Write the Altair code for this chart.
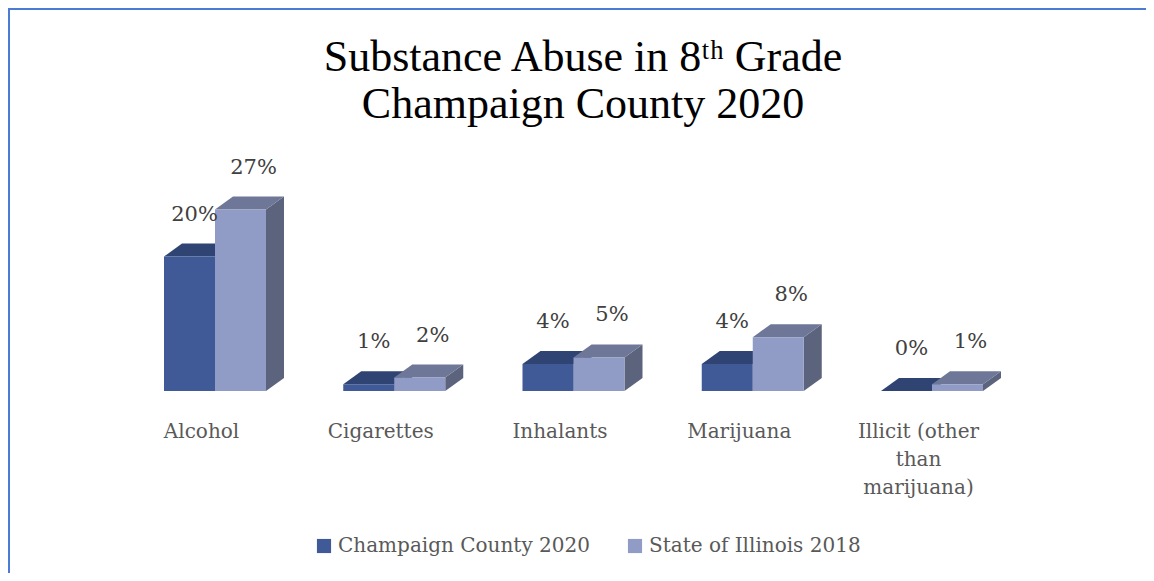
import json
import altair as alt
import pandas as pd

# ---------------- data ----------------
categories = ["Alcohol", "Cigarettes", "Inhalants", "Marijuana", "Illicit (other than marijuana)"]
category_lines = [["Alcohol"], ["Cigarettes"], ["Inhalants"], ["Marijuana"],
                  ["Illicit (other", "than", "marijuana)"]]
series = ["Champaign County 2020", "State of Illinois 2018"]
county_2020 = [20, 1, 4, 4, 0]
illinois_2018 = [27, 2, 5, 8, 1]

# ---------------- styles ----------------
front_colors = ["#3F5A96", "#909BC6"]
top_colors = ["#2F4473", "#6E7797"]
side_colors = ["#2B3C66", "#5C637C"]
label_dx_px = [5, 13]

# ---------------- layout ----------------
W_PX, H_PX = 1138, 565
STEP = 179.25      # px per category
BASE_PX = 383      # pixel row of 0 %
PPP = 6.72         # px per percent
FIRST_PX = 207     # pixel column of first category centre
BAR = 51 / STEP
DX = 18 / STEP
DY = 13 / PPP

x_domain = [-FIRST_PX / STEP, (W_PX - FIRST_PX) / STEP]
y_domain = [-(H_PX - BASE_PX) / PPP, BASE_PX / PPP]

values = [county_2020, illinois_2018]
front, top, side, labels = [], [], [], []
for s, vals in enumerate(values):
    for i, (cat, v) in enumerate(zip(categories, vals)):
        x0 = i - BAR if s == 0 else i
        x1 = x0 + BAR
        bar = f"b{s}{i}"
        front.append(dict(series=series[s], category=cat, x0=x0, x1=x1, v=v, bar=bar))
        # top face (parallelogram) as a ranged vertical area
        for px, lo, hi in [(x0, v, v), (x0 + DX, v, v + DY), (x1, v, v + DY), (x1 + DX, v + DY, v + DY)]:
            top.append(dict(series=series[s], bar=bar, px=px, lo=lo, hi=hi))
        # side face
        for px, lo, hi in [(x1, 0, v), (x1 + DX, DY, v + DY)]:
            side.append(dict(series=series[s], bar=bar, px=px, lo=lo, hi=hi))
        labels.append(dict(series=series[s], lx=(x0 + x1) / 2 + label_dx_px[s] / STEP,
                           ly=v + DY, text=f"{v}%"))

front_df = pd.DataFrame(front)
top_df = pd.DataFrame(top)
side_df = pd.DataFrame(side)
label_df = pd.DataFrame(labels)

xs = alt.Scale(domain=x_domain, nice=False, zero=False)
ys = alt.Scale(domain=y_domain, nice=False, zero=False)

x_axis = alt.Axis(
    values=[0, 1, 2, 3, 4],
    labelExpr=json.dumps(category_lines) + "[datum.value]",
    orient="bottom", offset=-(H_PX - BASE_PX),
    domain=False, ticks=False, grid=False,
    labelFont="DejaVu Serif", labelFontSize=20, labelColor="#595959",
    labelPadding=30, labelOffset=-14, labelLineHeight=28,
    labelFlush=False, labelOverlap=False, labelLimit=300,
)


def X(field):
    return alt.X(field, type="quantitative", scale=xs, axis=x_axis, title=None)


def Y(field):
    return alt.Y(field, type="quantitative", scale=ys, axis=None, stack=False)


color_enc = alt.Color(
    "series:N",
    scale=alt.Scale(domain=series, range=front_colors),
    legend=alt.Legend(
        title=None, orient="none", legendX=306, legendY=528, direction="horizontal",
        symbolType="square", symbolSize=200, symbolStrokeWidth=0,
        labelFont="DejaVu Serif", labelFontSize=20, labelColor="#595959",
        labelOffset=4, columnPadding=35, padding=0, labelLimit=400,
    ),
)

layers = []
for s, name in enumerate(series):
    sd = side_df[side_df.series == name].reset_index(drop=True)
    td = top_df[top_df.series == name].reset_index(drop=True)
    fd = front_df[front_df.series == name].reset_index(drop=True)
    layers.append(
        alt.Chart(sd).mark_area(color=side_colors[s], opacity=1, interpolate="linear").encode(
            x=X("px"), y=Y("lo"), y2=alt.Y2("hi"), detail="bar:N")
    )
    layers.append(
        alt.Chart(td).mark_area(color=top_colors[s], opacity=1, interpolate="linear").encode(
            x=X("px"), y=Y("lo"), y2=alt.Y2("hi"), detail="bar:N")
    )
    layers.append(
        alt.Chart(fd).mark_rect().encode(
            x=X("x0"), x2="x1", y=Y("v"), y2=alt.datum(0), color=color_enc)
    )

layers.append(
    alt.Chart(label_df).mark_text(
        font="DejaVu Serif", fontSize=21, color="#404040", baseline="middle",
        align="center", dy=-29).encode(x=X("lx"), y=Y("ly"), text="text:N")
)

border_color = "#4A7BD5"
layers.append(
    alt.Chart(front_df).mark_rule(color=border_color, strokeWidth=2).encode(
        x=alt.value(1), y=alt.value(0), y2=alt.value(H_PX))
)
layers.append(
    alt.Chart(front_df).mark_rule(color=border_color, strokeWidth=2).encode(
        x=alt.value(0), x2=alt.value(W_PX), y=alt.value(1))
)

chart = alt.layer(*layers).properties(
    width=W_PX, height=H_PX,
    autosize=alt.AutoSizeParams(type="none"),
    padding=0,
    title=alt.TitleParams(
        text=["Substance Abuse in 8\u1d57\u02b0 Grade", "Champaign County 2020"],
        font="Liberation Serif", fontSize=44, fontWeight="normal", color="#000000",
        lineHeight=47, anchor="middle", frame="group", offset=-164, dx=6,
        baseline="bottom",
    ),
).configure_view(strokeWidth=0).configure(background="white")

chart.save("out.html", embed_options={"renderer": "svg", "actions": False})
